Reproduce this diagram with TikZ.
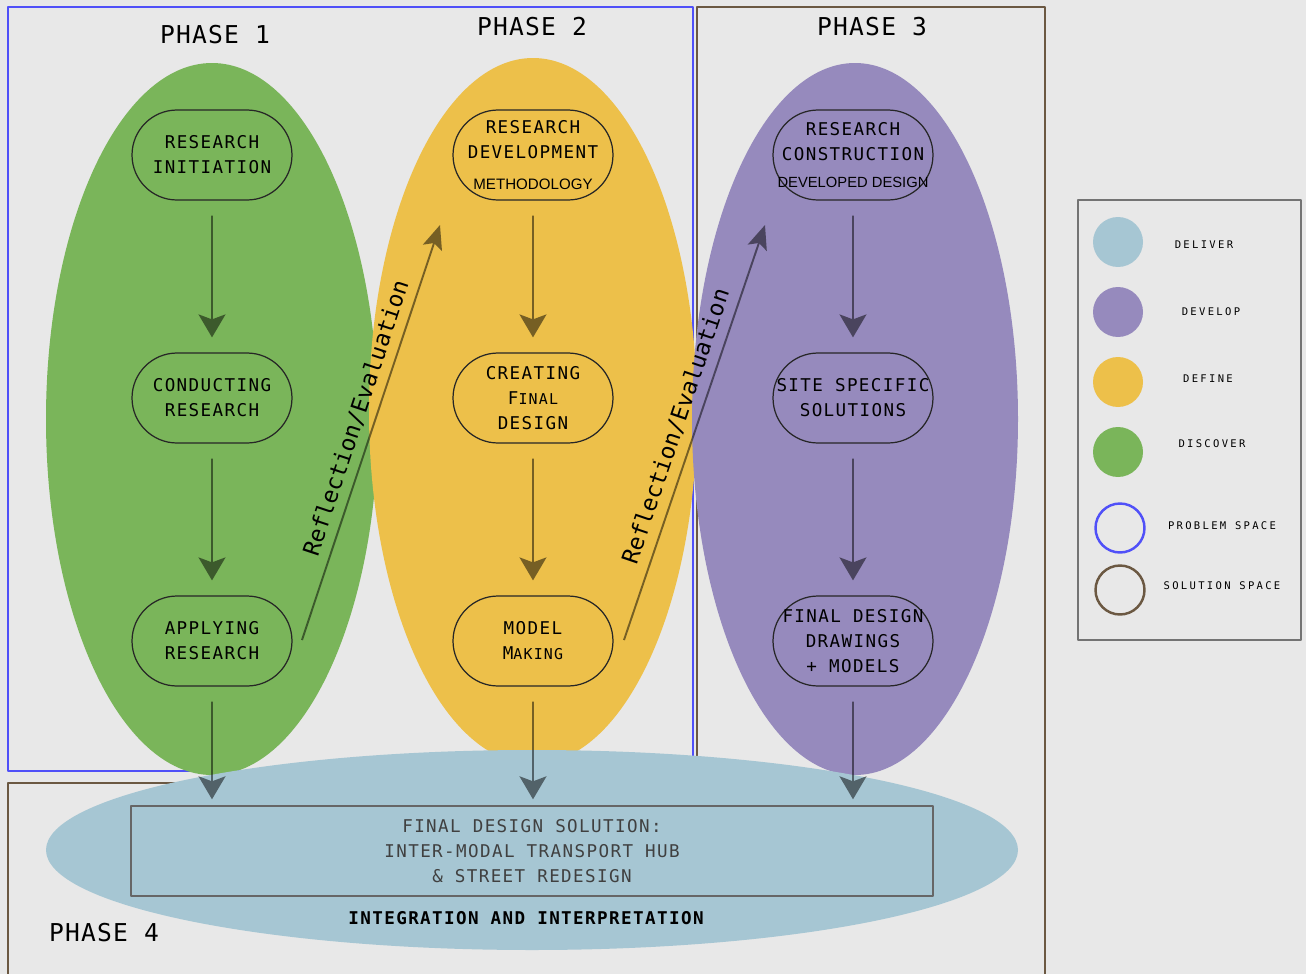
\documentclass[tikz,border=0pt]{standalone}
\usepackage{fontspec}
\newfontfamily\pixfont[LetterSpace=8]{DejaVu Sans Mono}
\newfontfamily\phasefont[LetterSpace=5]{DejaVu Sans Mono}
\newfontfamily\legfont[LetterSpace=22]{DejaVu Sans Mono}
\newfontfamily\reffont{DejaVu Sans Mono}
\newfontfamily\plainsans{Liberation Sans}
\usetikzlibrary{arrows.meta}
\definecolor{bg}{HTML}{E8E8E8}
\definecolor{discover}{HTML}{7AB55A}
\definecolor{define}{HTML}{EDC04A}
\definecolor{develop}{HTML}{968ABD}
\definecolor{deliver}{HTML}{A6C6D3}
\definecolor{problem}{HTML}{5050F8}
\definecolor{solution}{HTML}{6B5842}
% bigger first letter, smaller rest
\newcommand\capfirst[2]{#1{\fontsize{8.5}{14}\selectfont#2}}
\tikzset{
  stage/.style={draw=black!85, line width=.7pt, rounded corners=.9cm, minimum width=3.2cm,
    minimum height=1.8cm, inner sep=0pt, align=center, font=\pixfont\fontsize{10}{14.2}\selectfont},
  flow/.style={-{Stealth[length=.46cm,width=.54cm,inset=.1cm]}, line width=1.1pt,
    shorten <=.3cm, shorten >=.3cm},
  reflect/.style={-{Stealth[length=.48cm,width=.4cm,inset=.1cm]}, line width=1.1pt},
  reftext/.style={sloped, inner sep=0pt, font=\reffont\fontsize{13}{15}\selectfont},
  phase/.style={font=\phasefont\fontsize{14}{16}\selectfont},
  swatch/.style={circle, minimum size=1cm, inner sep=0pt},
  legtext/.style={font=\legfont\fontsize{6}{7}\selectfont}
}
\begin{document}
\begin{tikzpicture}[x=0.02cm, y=-0.02cm, line join=round]
\useasboundingbox (0,0) rectangle (1306,974);
\fill[bg] (0,0) rectangle (1306,974);
% problem / solution spaces
\draw[solution, line width=1.1pt] (8,980) -- (8,783) -- (697,783) -- (697,7) -- (1045,7) -- (1045,980);
\draw[problem, line width=1.4pt] (8,7) rectangle (693,771);
% phases
\fill[discover] (212,419) ellipse [x radius=166, y radius=356];
\fill[define] (533,411) ellipse [x radius=164, y radius=353];
\fill[develop] (855,419) ellipse [x radius=163, y radius=356];
\fill[deliver] (532,850) ellipse [x radius=486, y radius=100];

\node[phase] (p1) at (215,35) {PHASE 1};
\node[phase] (p2) at (532,27) {PHASE 2};
\node[phase] (p3) at (872,27) {PHASE 3};
\node[phase] (p4) at (104,933) {PHASE 4};

\node[stage] (ri) at (212,155) {RESEARCH\\INITIATION};
\node[stage] (cr) at (212,398) {CONDUCTING\\RESEARCH};
\node[stage] (ar) at (212,641) {APPLYING\\RESEARCH};

\node[stage] (rd) at (533,155) {RESEARCH\\DEVELOPMENT\\[3pt]{\plainsans\fontsize{8.6}{10}\selectfont METHODOLOGY}};
\node[stage] (cf) at (533,398) {CREATING\\\capfirst{F}{INAL}\\DESIGN};
\node[stage] (mm) at (533,641) {MODEL\\\capfirst{M}{AKING}};

\node[stage] (rc) at (853,155) {RESEARCH\\CONSTRUCTION\\[1pt]{\plainsans\fontsize{8.4}{10}\selectfont DEVELOPED DESIGN}};
\node[stage] (ss) at (853,398) {SITE SPECIFIC\\SOLUTIONS};
\node[stage] (fd) at (853,641) {FINAL DESIGN\\DRAWINGS\\+ MODELS};

\node[draw=black!60, line width=.8pt, minimum width=16.04cm, minimum height=1.8cm, inner sep=0pt,
  align=center, text=black!75, font=\pixfont\fontsize{10}{14.2}\selectfont] (final) at (532,851)
  {FINAL DESIGN SOLUTION:\\INTER-MODAL TRANSPORT HUB\\\& STREET REDESIGN};
\node[font=\pixfont\bfseries\fontsize{10}{12}\selectfont] (integ) at (526,918) {INTEGRATION AND INTERPRETATION};

\begin{scope}[transparency group, opacity=.5]
\foreach \a/\b in {ri/cr, cr/ar, rd/cf, cf/mm, rc/ss, ss/fd}
  \draw[flow] (\a) -- (\b);
\foreach \a in {ar, mm, fd}
  \draw[flow, shorten >=.12cm] (\a) -- (\a |- final.north);
\end{scope}

\coordinate (r1s) at (302,640); \coordinate (r1e) at (440,225);
\coordinate (r2s) at (624,640); \coordinate (r2e) at (765,225);
\begin{scope}[transparency group, opacity=.5]
\draw[reflect] (r1s) -- (r1e);
\draw[reflect] (r2s) -- (r2e);
\end{scope}
\path (r1s) -- node[reftext, pos=.52, above=.17cm] (t1) {Reflection/Evaluation} (r1e);
\path (r2s) -- node[reftext, pos=.5, above=.19cm] (t2) {Reflection/Evaluation} (r2e);

% key
\draw[black!55, line width=.6pt] (1078,200) rectangle (1301,640);
\foreach \nm/\col/\yy/\lab/\lx/\ly in {del/deliver/242/DELIVER/1204/245, dev/develop/312/DEVELOP/1211/312,
    def/define/382/DEFINE/1208/379, dis/discover/452/DISCOVER/1212/444}{
  \node[swatch, fill=\col] (k\nm) at (1118,\yy) {};
  \node[legtext] (t\nm) at (\lx,\ly) {\lab};
}
\node[swatch, draw=problem, line width=1.4pt, minimum size=.98cm] (kprob) at (1120,528) {};
\node[legtext] (tprob) at (1222,526) {PROBLEM SPACE};
\node[swatch, draw=solution, line width=1.4pt, minimum size=.98cm] (ksol) at (1120,590) {};
\node[legtext] (tsol) at (1222,586) {SOLUTION SPACE};
\end{tikzpicture}
\end{document}
